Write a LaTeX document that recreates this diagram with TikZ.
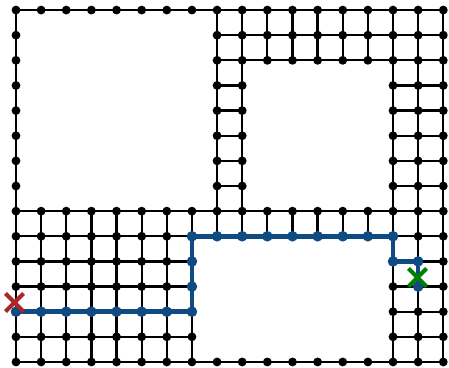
\documentclass[tikz,border=0pt]{standalone}
\usepackage{tikz}
\usetikzlibrary{backgrounds,shapes.misc}
\definecolor{ruta}{RGB}{16,74,130}
\definecolor{inicio}{RGB}{170,38,40}
\definecolor{meta}{RGB}{0,128,0}
% \hueco=1 si la celda (#1,#2) cae dentro de un obstaculo
\newcommand{\libre}[2]{\pgfmathtruncatemacro\hueco{(#1>=1)*(#1<=7)*(#2>=1)*(#2<=7)+(#1>=10)*(#1<=14)*(#2>=3)*(#2<=7)+(#1>=8)*(#1<=14)*(#2>=10)*(#2<=13)}}

\begin{document}
\begin{tikzpicture}[x=0.5cm,y=0.5cm,
  vert/.style={circle,fill=black,inner sep=0pt,minimum size=5pt},
  arista/.style={draw=black,line width=1.3pt},
  marca/.style={cross out,draw,line width=2.3pt,inner sep=0pt,minimum size=0.28cm}]
  \useasboundingbox (-0.636,0.40) rectangle (17.227,-14.24);
  % vertices
  \foreach \x in {0,...,17}
    \foreach \y in {0,...,14}{
      \libre{\x}{\y}
      \ifnum\hueco=0 \node[vert] (v-\x-\y) at (\x,-\y) {};\fi
    }
  % aristas
  \begin{scope}[on background layer]
    \foreach \x in {0,...,17}
      \foreach \y in {0,...,14}{
        \libre{\x}{\y}
        \ifnum\hueco=0
          \pgfmathtruncatemacro\xn{\x+1}
          \pgfmathtruncatemacro\yn{\y+1}
          \ifnum\x<17 \libre{\xn}{\y}\ifnum\hueco=0 \draw[arista] (v-\x-\y.center)--(v-\xn-\y.center);\fi\fi
          \ifnum\y<14 \libre{\x}{\yn}\ifnum\hueco=0 \draw[arista] (v-\x-\y.center)--(v-\x-\yn.center);\fi\fi
        \fi
      }
  \end{scope}
  % camino
  \draw[ruta,line width=2.6pt,line join=round] (v-0-12.center)--(v-7-12.center)--(v-7-9.center)
    --(v-15-9.center)--(v-15-10.center)--(v-16-10.center)--(v-16-11.center);
  \foreach \p in {0-12,1-12,2-12,3-12,4-12,5-12,6-12,7-12,7-11,7-10,7-9,8-9,9-9,10-9,
    11-9,12-9,13-9,14-9,15-9,15-10,16-10,16-11}
    \fill[ruta] (v-\p) circle (3pt);
  % inicio y meta
  \node[marca,draw=inicio,xshift=-0.85pt,yshift=5.2pt] (ini) at (v-0-12) {};
  \node[marca,draw=meta,xshift=-0.4pt,yshift=5.1pt] (fin) at (v-16-11) {};
\end{tikzpicture}
\end{document}
